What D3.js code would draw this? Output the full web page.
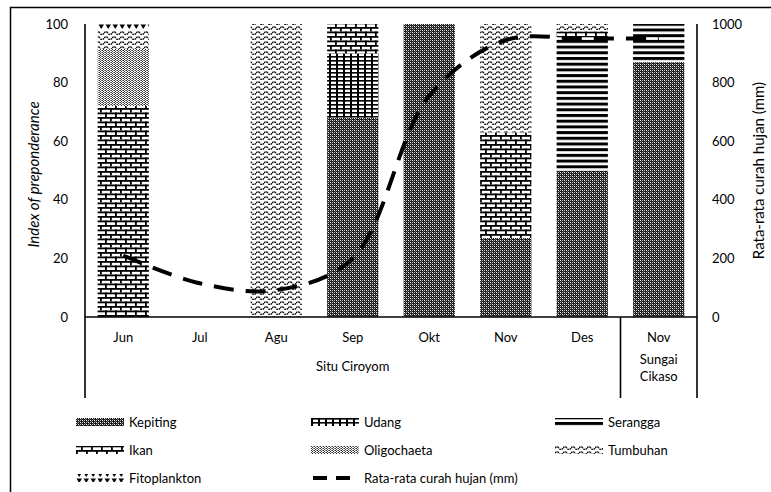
<!DOCTYPE html>
<html>
<head>
<meta charset="utf-8">
<script src="https://cdn.jsdelivr.net/npm/d3@7"></script>
<style>
  body { margin: 0; background: #fff; }
  svg { display: block; font-family: Lato, "Open Sans", sans-serif; }
</style>
</head>
<body>
<script>
// categories (month) and their site group
const months = ['Jun', 'Jul', 'Agu', 'Sep', 'Okt', 'Nov', 'Des', 'Nov'];
const sites = ['Situ Ciroyom', 'Situ Ciroyom', 'Situ Ciroyom', 'Situ Ciroyom', 'Situ Ciroyom', 'Situ Ciroyom', 'Situ Ciroyom', 'Sungai Cikaso'];

const groups = ['Kepiting', 'Udang', 'Serangga', 'Ikan', 'Oligochaeta', 'Tumbuhan', 'Fitoplankton'];
const kepiting     = [0, 0, 0, 68, 100, 27, 50, 87];
const udang        = [0, 0, 0, 22, 0, 0, 0, 0];
const serangga     = [0, 0, 0, 0, 0, 0, 45.5, 13];
const ikan         = [72, 0, 0, 10, 0, 36, 2, 0];
const oligochaeta  = [19.5, 0, 0, 0, 0, 0, 0, 0];
const tumbuhan     = [6.5, 0, 100, 0, 0, 37, 2.5, 0];
const fitoplankton = [2, 0, 0, 0, 0, 0, 0, 0];
const rainfall     = [210, 115, 92, 200, 755, 945, 950, 950];

const leftTicks = [0, 20, 40, 60, 80, 100];
const rightTicks = [0, 200, 400, 600, 800, 1000];

const series = [kepiting, udang, serangga, ikan, oligochaeta, tumbuhan, fitoplankton];
const table = months.map((m, i) => {
  let row = { idx: i, month: m };
  groups.forEach((g, j) => { row[g] = series[j][i]; });
  return row;
});

const width = 771, height = 492;
const padL = 85, padR = 697, padT = 24, base = 317, lineBottom = 398;

const svg = d3.select('body').append('svg')
  .attr('width', width)
  .attr('height', height);

// patterns
const defs = svg.append('defs');
function pattern(id, w, h) {
  return defs.append('pattern')
    .attr('id', id)
    .attr('patternUnits', 'userSpaceOnUse')
    .attr('width', w)
    .attr('height', h);
}

let p = pattern('p-Kepiting', 4, 4);
p.append('rect').attr('width', 4).attr('height', 4).attr('fill', '#1a1a1a');
p.append('rect').attr('x', 0).attr('y', 0).attr('width', 1).attr('height', 1).attr('fill', '#fff');
p.append('rect').attr('x', 2).attr('y', 2).attr('width', 1).attr('height', 1).attr('fill', '#fff');
p.append('rect').attr('x', 2).attr('y', 0).attr('width', 1).attr('height', 1).attr('fill', '#bbb');
p.append('rect').attr('x', 0).attr('y', 2).attr('width', 1).attr('height', 1).attr('fill', '#bbb');
p.append('rect').attr('x', 1).attr('y', 1).attr('width', 1).attr('height', 1).attr('fill', '#666');
p.append('rect').attr('x', 3).attr('y', 3).attr('width', 1).attr('height', 1).attr('fill', '#666');

p = pattern('p-Udang', 7, 4);
p.append('rect').attr('width', 7).attr('height', 4).attr('fill', '#fff');
p.append('rect').attr('x', 0).attr('width', 2).attr('height', 4).attr('fill', '#000');
p.append('rect').attr('y', 0).attr('width', 7).attr('height', 1.6).attr('fill', '#000');

p = pattern('p-Serangga', 6, 5.7);
p.append('rect').attr('width', 6).attr('height', 5.7).attr('fill', '#fff');
p.append('rect').attr('y', 0).attr('width', 6).attr('height', 3).attr('fill', '#000');

p = pattern('p-Ikan', 10, 9);
p.append('rect').attr('width', 10).attr('height', 9).attr('fill', '#fff');
p.append('rect').attr('y', 0).attr('width', 10).attr('height', 1.8).attr('fill', '#000');
p.append('rect').attr('y', 4.5).attr('width', 10).attr('height', 1.8).attr('fill', '#000');
p.append('rect').attr('x', 0).attr('y', 0).attr('width', 1.8).attr('height', 4.5).attr('fill', '#000');
p.append('rect').attr('x', 5).attr('y', 4.5).attr('width', 1.8).attr('height', 4.5).attr('fill', '#000');

p = pattern('p-Oligochaeta', 3, 2);
p.append('rect').attr('width', 3).attr('height', 2).attr('fill', '#fff');
p.append('rect').attr('x', 0).attr('y', 0).attr('width', 1).attr('height', 1).attr('fill', '#333');
p.append('rect').attr('x', 1).attr('y', 1).attr('width', 1).attr('height', 1).attr('fill', '#333');
p.append('rect').attr('x', 2).attr('y', 0).attr('width', 1).attr('height', 1).attr('fill', '#888');

p = pattern('p-Tumbuhan', 8, 5);
p.append('rect').attr('width', 8).attr('height', 5).attr('fill', '#fff');
p.append('path').attr('d', 'M0,3.2 Q2,0.4 4,3.2 T8,3.2')
  .attr('fill', 'none').attr('stroke', '#111').attr('stroke-width', 1.4)
  .attr('stroke-dasharray', '2,0.7');

p = pattern('p-Fitoplankton', 7, 6);
p.append('rect').attr('width', 7).attr('height', 6).attr('fill', '#fff');
p.append('path').attr('d', 'M0.5,0.5 L6,0.5 L3.25,5 Z').attr('fill', '#000');

// scales
const x = d3.scaleBand()
  .domain(d3.range(months.length))
  .range([padL, padR])
  .paddingInner(0.33)
  .paddingOuter(0.165);

const y = d3.scaleLinear().domain([0, 100]).range([base, padT]);
const y2 = d3.scaleLinear().domain([0, 1000]).range([base, padT]);

// outer frame
svg.append('rect')
  .attr('x', 10.5).attr('y', 7.5)
  .attr('width', 780).attr('height', 500)
  .attr('fill', 'none').attr('stroke', '#000').attr('stroke-width', 1.5);

// stacked bars
const stack = d3.stack().keys(groups)(table);
svg.append('g').selectAll('g')
  .data(stack)
  .enter().append('g')
  .attr('fill', d => 'url(#p-' + d.key + ')')
  .selectAll('rect')
  .data(d => d.filter(s => s[1] - s[0] > 0))
  .enter().append('rect')
  .attr('x', d => x(d.data.idx))
  .attr('width', x.bandwidth())
  .attr('y', d => y(d[1]))
  .attr('height', d => y(d[0]) - y(d[1]));

// axes
const leftAxis = svg.append('g')
  .attr('transform', 'translate(' + padL + ',0)')
  .call(d3.axisLeft(y).tickValues(leftTicks).tickSize(0).tickPadding(17));
leftAxis.select('.domain').remove();

const rightAxis = svg.append('g')
  .attr('transform', 'translate(' + padR + ',0)')
  .call(d3.axisRight(y2).tickValues(rightTicks).tickFormat(d3.format('d')).tickSize(0).tickPadding(15));
rightAxis.select('.domain').remove();

svg.selectAll('.tick text')
  .attr('font-size', 13)
  .attr('font-family', 'Lato, sans-serif')
  .attr('fill', '#000');

// axis lines and group separators
const lines = svg.append('g').attr('stroke', '#000').attr('stroke-width', 1.6);
lines.append('line').attr('x1', padL).attr('x2', padL).attr('y1', padT).attr('y2', lineBottom);
lines.append('line').attr('x1', padR).attr('x2', padR).attr('y1', padT).attr('y2', lineBottom);
lines.append('line').attr('x1', padL).attr('x2', padR).attr('y1', base).attr('y2', base);
const sepX = (x(6) + x.bandwidth() + x(7)) / 2;
lines.append('line').attr('x1', sepX).attr('x2', sepX).attr('y1', base).attr('y2', lineBottom);

// category labels
svg.append('g').selectAll('text')
  .data(months)
  .enter().append('text')
  .attr('x', (d, i) => x(i) + x.bandwidth() / 2)
  .attr('y', 342)
  .attr('text-anchor', 'middle')
  .attr('font-size', 13)
  .text(d => d);

// group labels
svg.append('text')
  .attr('x', (padL + sepX) / 2)
  .attr('y', 371)
  .attr('text-anchor', 'middle')
  .attr('font-size', 13)
  .text(sites[0]);

const sungai = svg.append('text')
  .attr('x', (sepX + padR) / 2)
  .attr('text-anchor', 'middle')
  .attr('font-size', 13);
sungai.append('tspan').attr('x', (sepX + padR) / 2).attr('y', 364).text('Sungai');
sungai.append('tspan').attr('x', (sepX + padR) / 2).attr('y', 381).text('Cikaso');

// axis titles
svg.append('text')
  .attr('transform', 'translate(39,' + ((padT + base) / 2 + 4) + ')rotate(-90)')
  .attr('text-anchor', 'middle')
  .attr('font-size', 15)
  .attr('font-style', 'italic')
  .text('Index of preponderance');

svg.append('text')
  .attr('transform', 'translate(764,' + ((padT + base) / 2) + ')rotate(-90)')
  .attr('text-anchor', 'middle')
  .attr('font-size', 15)
  .text('Rata-rata curah hujan (mm)');

// rainfall line
const line = d3.line()
  .x((d, i) => x(i) + x.bandwidth() / 2)
  .y(d => y2(d))
  .curve(d3.curveCatmullRom.alpha(0.5));

svg.append('path')
  .datum(rainfall)
  .attr('d', line)
  .attr('fill', 'none')
  .attr('stroke', '#000')
  .attr('stroke-width', 4)
  .attr('stroke-dasharray', '20,12');

// legend
const legendItems = groups.concat(['Rata-rata curah hujan (mm)']);
const colX = [76, 311, 555];
const rowY = [422, 450, 478];

const legend = svg.append('g').selectAll('g')
  .data(legendItems)
  .enter().append('g')
  .attr('transform', (d, i) => 'translate(' + colX[i % 3] + ',' + rowY[Math.floor(i / 3)] + ')');

legend.each(function(d, i) {
  const g = d3.select(this);
  if (i < groups.length) {
    g.append('rect')
      .attr('x', 0).attr('y', -4)
      .attr('width', 48).attr('height', 8)
      .attr('fill', 'url(#p-' + d + ')');
  } else {
    g.append('line')
      .attr('x1', 2).attr('x2', 46).attr('y1', 0).attr('y2', 0)
      .attr('stroke', '#000').attr('stroke-width', 4)
      .attr('stroke-dasharray', '14,9');
  }
  g.append('text')
    .attr('x', 53).attr('y', 5)
    .attr('font-size', 13)
    .text(d);
});
</script>
</body>
</html>
